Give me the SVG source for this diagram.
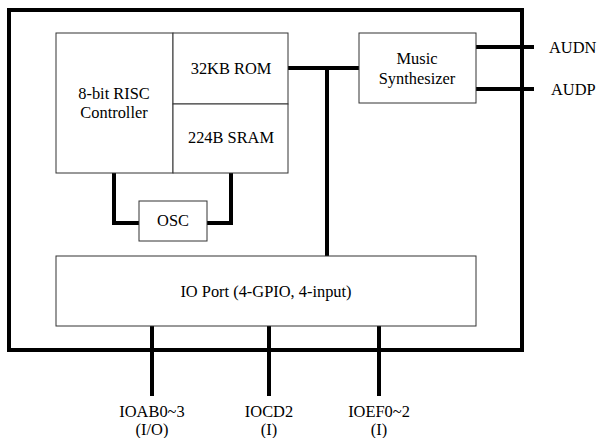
<svg xmlns="http://www.w3.org/2000/svg" width="598" height="438" viewBox="0 0 598 438">
<style>
.box{fill:#fff;stroke:#333;stroke-width:1}
.w{fill:none;stroke:#000;stroke-width:4}
text{font-family:"Liberation Serif","Times New Roman",serif;font-size:16.4px;fill:#000;text-anchor:middle}
text.l{text-anchor:start}
</style>
<rect x="0" y="0" width="598" height="438" fill="#fff"/>
<g id="frame"><rect x="9" y="10" width="513" height="340" fill="none" stroke="#000" stroke-width="4"/></g>
<g id="connectors">
<path class="w" d="M288 68H359M327 68V256"/>
<path class="w" d="M114 173V223H139M231 173V223H207"/>
<path class="w" d="M476 47H534M476 89H534"/>
<path class="w" d="M152 326V396M269 326V396M379 326V396"/>
</g>
<g id="controller"><rect class="box" x="56" y="33" width="117" height="140"/><text x="114" y="99">8-bit RISC</text><text x="114" y="118">Controller</text></g>
<g id="rom"><rect class="box" x="173" y="33" width="115" height="71"/><text x="231" y="74">32KB ROM</text></g>
<g id="sram"><rect class="box" x="173" y="104" width="115" height="69"/><text x="231" y="143">224B SRAM</text></g>
<g id="music"><rect class="box" x="359" y="33" width="117" height="70"/><text x="417" y="64">Music</text><text x="417" y="84">Synthesizer</text></g>
<g id="osc"><rect class="box" x="139" y="201" width="68" height="40"/><text x="173" y="226">OSC</text></g>
<g id="io"><rect class="box" x="56" y="256" width="420" height="70"/><text x="266" y="297">IO Port (4-GPIO, 4-input)</text></g>
<g id="labels">
<text class="l" x="549" y="53">AUDN</text>
<text class="l" x="551" y="95">AUDP</text>
<text x="152" y="417">IOAB0~3</text><text x="152" y="435">(I/O)</text>
<text x="269" y="417">IOCD2</text><text x="269" y="435">(I)</text>
<text x="379" y="417">IOEF0~2</text><text x="379" y="435">(I)</text>
</g>
</svg>
